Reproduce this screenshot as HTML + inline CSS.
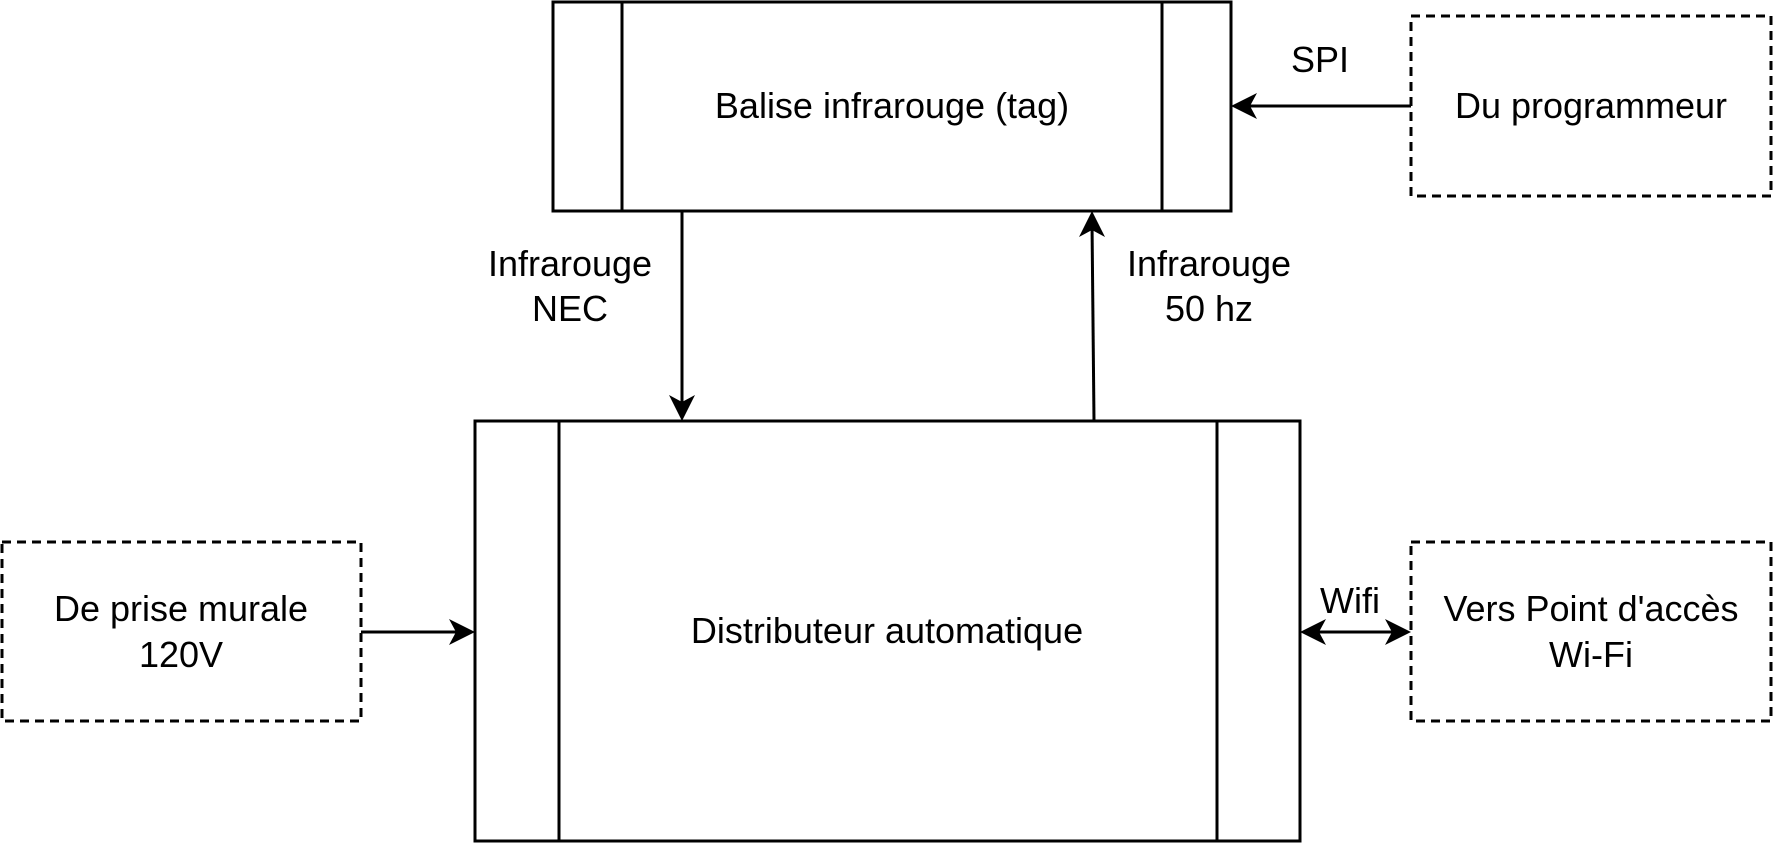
<!DOCTYPE html>
<html><head><meta charset="utf-8"><style>
html,body{margin:0;padding:0;background:#fff;}
svg text{font-family:"Liberation Sans",Arial,sans-serif;font-size:36px;fill:#000;text-anchor:middle;}
</style></head><body>
<svg width="1773" height="843" viewBox="0 0 1773 843" xmlns="http://www.w3.org/2000/svg">
<g fill="none" stroke="#000" stroke-width="3">
<rect x="553" y="2" width="678" height="209"/>
<line x1="622" y1="2" x2="622" y2="211"/>
<line x1="1162" y1="2" x2="1162" y2="211"/>
<rect x="475" y="421" width="825" height="420"/>
<line x1="559" y1="421" x2="559" y2="841"/>
<line x1="1217" y1="421" x2="1217" y2="841"/>
<g stroke-dasharray="9 6">
<rect x="1411" y="16" width="360" height="180"/>
<rect x="2" y="542" width="359" height="179"/>
<rect x="1411" y="542" width="360" height="179"/>
</g>
<line x1="1411" y1="106" x2="1240" y2="106"/>
<line x1="682" y1="211" x2="682" y2="410"/>
<line x1="1094" y1="421" x2="1092" y2="222"/>
<line x1="361" y1="632" x2="465" y2="632"/>
<line x1="1310" y1="632" x2="1401" y2="632"/>
</g>
<g fill="#000">
<path d="M1231 106 L1257 93 L1250 106 L1257 119 Z"/>
<path d="M682 421 L669 395 L682 402 L695 395 Z"/>
<path d="M1092 211 L1079 237 L1092 230 L1105 237 Z"/>
<path d="M475 632 L449 619 L456 632 L449 645 Z"/>
<path d="M1300 632 L1326 619 L1319 632 L1326 645 Z"/>
<path d="M1411 632 L1385 619 L1392 632 L1385 645 Z"/>
</g>
<text x="892" y="118">Balise infrarouge (tag)</text>
<text x="1591" y="118">Du programmeur</text>
<text x="1320" y="72">SPI</text>
<text x="570" y="276">Infrarouge</text>
<text x="570" y="321">NEC</text>
<text x="1209" y="276">Infrarouge</text>
<text x="1209" y="321">50 hz</text>
<text x="887" y="643">Distributeur automatique</text>
<text x="181" y="621">De prise murale</text>
<text x="181" y="667">120V</text>
<text x="1591" y="621">Vers Point d'accès</text>
<text x="1591" y="667">Wi-Fi</text>
<text x="1350" y="613">Wifi</text>
</svg>
</body></html>
